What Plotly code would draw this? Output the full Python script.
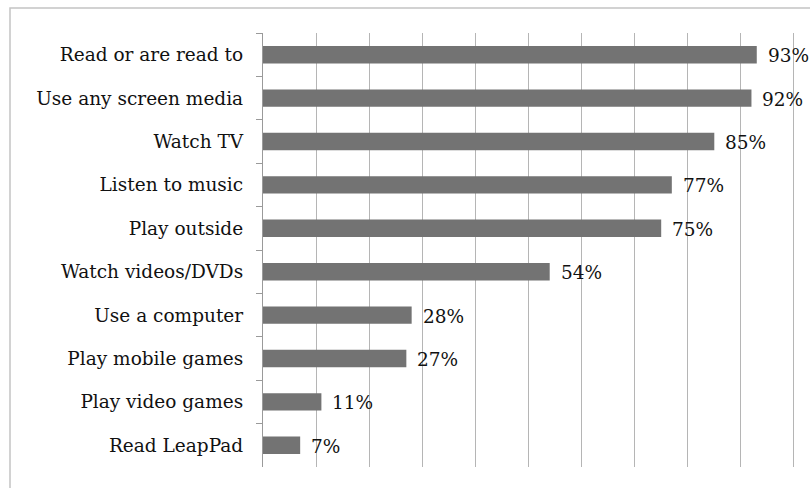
import plotly.graph_objects as go

activities = [
    "Read or are read to",
    "Use any screen media",
    "Watch TV",
    "Listen to music",
    "Play outside",
    "Watch videos/DVDs",
    "Use a computer",
    "Play mobile games",
    "Play video games",
    "Read LeapPad",
]
percent = [93, 92, 85, 77, 75, 54, 28, 27, 11, 7]

FONT = "DejaVu Serif"
W, H = 810, 488
L, R, T, B = 263, 15, 33, 21
pw, ph = W - L - R, H - T - B

fig = go.Figure(
    go.Bar(
        x=percent,
        y=activities,
        orientation="h",
        marker=dict(color="#737373", line=dict(width=0)),
        width=0.4,
        hoverinfo="skip",
    )
)

# value labels to the right of each bar
for a, v in zip(activities, percent):
    fig.add_annotation(
        x=v, y=a, text=f"{v}%", showarrow=False,
        xanchor="left", yanchor="middle", xshift=9, yshift=-1,
        font=dict(family=FONT, size=18.5, color="#111111"),
    )

# light frame around the chart area
fig.add_shape(
    type="rect", xref="paper", yref="paper",
    x0=(10 - L) / pw, x1=(830 - L) / pw,
    y0=(H - B - 500) / ph, y1=(H - B - 8) / ph,
    line=dict(color="#c4c4c4", width=1.5), fillcolor="rgba(0,0,0,0)",
    layer="below",
)

fig.update_layout(
    width=W, height=H,
    margin=dict(l=L, r=R, t=T, b=B, pad=0),
    paper_bgcolor="white", plot_bgcolor="white",
    showlegend=False,
    bargap=0.6,
    xaxis=dict(
        range=[0, 100.2], dtick=10, tick0=0,
        showgrid=True, gridcolor="#b5b5b5", gridwidth=1.3,
        showticklabels=False, ticks="", zeroline=False, showline=False,
        fixedrange=True,
    ),
    yaxis=dict(
        autorange="reversed",
        showline=True, linecolor="#9a9a9a", linewidth=1.3,
        ticks="outside", tickson="boundaries", ticklen=6, tickcolor="#9a9a9a",
        tickwidth=1.3, ticklabelstandoff=15,
        tickfont=dict(family=FONT, size=18.5, color="#111111"),
        showgrid=False, zeroline=False, fixedrange=True,
    ),
)

fig.write_html("out.html")
